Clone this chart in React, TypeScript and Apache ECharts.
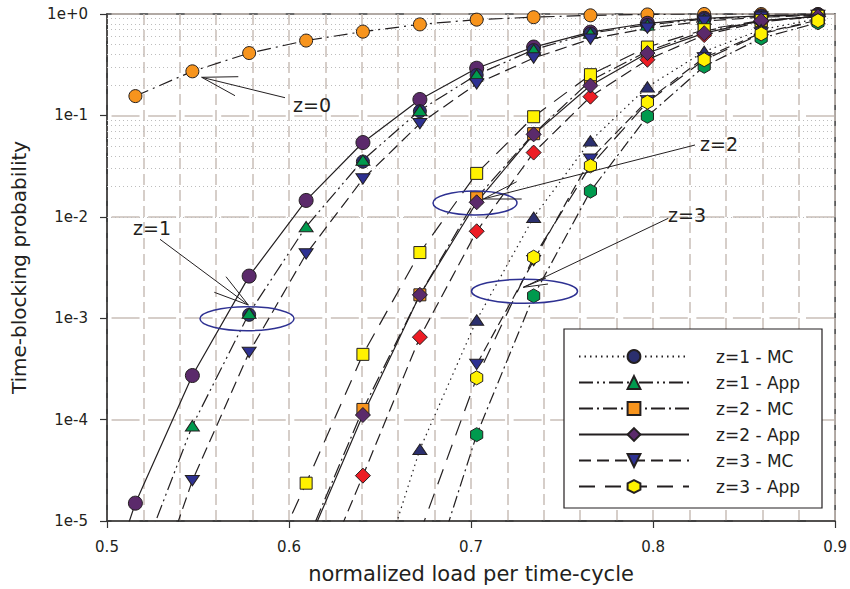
import React, { useEffect, useRef } from "react";
import * as echarts from "echarts";

// normalized load per time-cycle (x positions of the simulation points)
const loads = [0.4844, 0.5156, 0.5469, 0.5781, 0.6094, 0.6406, 0.6719, 0.7031, 0.7344, 0.7656, 0.7969, 0.8281, 0.8594, 0.8906];

// time-blocking probability per series (null = no point)
const z0Orange = [null, 0.155, 0.272, 0.412, 0.547, 0.67, 0.79, 0.88, 0.93, 0.97, 0.99, 1.0, 1.0, 1.0];
const z1Purple = [3.2e-7, 1.5e-5, 2.72e-4, 2.6e-3, 0.0145, 0.054, 0.1435, 0.292, 0.472, 0.662, 0.81, 0.907, 0.96, 0.985];
const z1Navy = [null, null, null, 1.08e-3, null, 0.035, 0.11, 0.25, 0.44, 0.64, 0.78, 0.89, 0.95, 0.98];
const z1Green = [null, 3.0e-6, 8.7e-5, 1.12e-3, 8.0e-3, 0.0362, 0.112, 0.252, 0.444, 0.647, 0.78, 0.89, 0.95, 0.98];
const z1Down = [null, 6e-7, 2.5e-5, 4.6e-4, 4.3e-3, 0.0236, 0.083, 0.205, 0.368, 0.565, 0.724, 0.85, 0.93, 0.97];
const z2Yellow = [null, null, null, 1.38e-6, 2.36e-5, 4.4e-4, 4.44e-3, 0.0268, 0.097, 0.252, 0.472, 0.7, 0.86, 0.95];
const z2Orange = [null, null, null, null, 6e-6, 1.26e-4, 1.7e-3, 0.0154, 0.066, 0.22, 0.43, 0.68, 0.85, 0.95];
const z2Purple = [null, null, null, null, 5.5e-6, 1.11e-4, 1.7e-3, 0.0139, 0.065, 0.197, 0.412, 0.647, 0.86, 0.95];
const z2Red = [null, null, null, null, 1.3e-6, 2.8e-5, 6.5e-4, 7.2e-3, 0.043, 0.153, 0.354, 0.62, 0.84, 0.94];
const z3Up = [null, null, null, null, null, 8.7e-7, 5.1e-5, 9.6e-4, 9.9e-3, 0.056, 0.191, 0.427, 0.7, 0.9];
const z3Down = [null, null, null, null, null, null, null, 3.5e-4, 3.7e-3, 0.037, 0.14, 0.37, 0.65, 0.87];
const z3Yellow = [null, null, null, null, null, null, 7.6e-6, 2.58e-4, 4.0e-3, 0.0318, 0.135, 0.354, 0.637, 0.86];
const z3Green = [null, null, null, null, null, null, 1.26e-6, 7.1e-5, 1.66e-3, 0.0179, 0.098, 0.305, 0.578, 0.82];

// tick labels / legend
const yTickExponents = [0, -1, -2, -3, -4, -5];
const legendNames = ["z=1 - MC", "z=1 - App", "z=2 - MC", "z=2 - App", "z=3 - MC", "z=3 - App"];
const annotationLabels = ["z=0", "z=1", "z=2", "z=3"];

const FONT = "DejaVu Sans, Liberation Sans, Arial, sans-serif";
const INK = "#231F20";
const HEX = "path://M0,-10 L8.66,-5 L8.66,5 L0,10 L-8.66,5 L-8.66,-5 Z";
const DIAMOND = "path://M0,-10 L10,0 L0,10 L-10,0 Z";
const DOWN = "path://M0,0 L20,0 L10,17.3 Z";
const UP = "path://M10,0 L20,17.3 L0,17.3 Z";

const C = {
  orange: "#F7941D",
  purple: "#5B2A6B",
  navy: "#2E3192",
  navyDark: "#2B2F6E",
  green: "#009A4E",
  yellow: "#FFF200",
  red: "#ED1C24",
};

function pairs(vals: (number | null)[]) {
  const out: number[][] = [];
  vals.forEach((v, i) => {
    if (v !== null) out.push([loads[i], v]);
  });
  return out;
}

function mk(name: string, vals: (number | null)[], symbol: string, size: number | number[], color: string, dash: any, showLine = true) {
  return {
    name,
    type: "line",
    data: pairs(vals),
    symbol,
    symbolSize: size,
    symbolKeepAspect: true,
    showAllSymbol: true,
    clip: true,
    silent: true,
    itemStyle: { color, borderColor: INK, borderWidth: 1, opacity: 1 },
    lineStyle: { color: INK, width: showLine ? 1.2 : 0, type: dash, opacity: showLine ? 1 : 0 },
    emphasis: { disabled: true },
    z: 2,
  };
}

function legendSeries(name: string, symbol: string, color: string, dash: any) {
  return {
    name,
    type: "line",
    data: [],
    symbol,
    symbolKeepAspect: true,
    itemStyle: { color, borderColor: INK, borderWidth: 1 },
    lineStyle: { color: INK, width: 1.2, type: dash },
  };
}

export default function App() {
  const ref = useRef<HTMLDivElement>(null);
  useEffect(() => {
    if (!ref.current) return;
    const chart = echarts.init(ref.current, null, { renderer: "svg" });

    const minorValues: number[] = [];
    for (let e = -5; e < 0; e++) {
      for (let m = 2; m <= 9; m++) minorValues.push(m * Math.pow(10, e));
    }

    const gridColor = "#C9BFB8";

    const option: any = {
      animation: false,
      backgroundColor: "#fff",
      textStyle: { fontFamily: FONT },
      grid: { left: 107, right: 12, top: 14, bottom: 65, show: true, borderColor: "#3A3A3A", borderWidth: 1.5, backgroundColor: "transparent" },
      xAxis: {
        type: "value",
        min: 0.5,
        max: 0.9,
        interval: 0.1,
        name: "normalized load per time-cycle",
        nameLocation: "middle",
        nameGap: 42,
        nameTextStyle: { fontSize: 21, color: INK, fontFamily: FONT },
        axisLine: { lineStyle: { color: "#333", width: 1.5 } },
        axisTick: { show: true, length: 7, inside: false, lineStyle: { color: "#333", width: 1.2 } },
        axisLabel: { fontSize: 15, color: INK, margin: 18, fontFamily: FONT, formatter: (v: number) => v.toFixed(1) },
        splitLine: { show: true, lineStyle: { color: gridColor, width: 1.5, type: [11, 5] } },
        minorTick: { show: false, splitNumber: 5 },
        minorSplitLine: { show: true, lineStyle: { color: gridColor, width: 1.5, type: [11, 5] } },
      },
      yAxis: {
        type: "log",
        logBase: 10,
        min: 1e-5,
        max: 1,
        name: "Time-blocking probability",
        nameLocation: "middle",
        nameGap: 78,
        nameTextStyle: { fontSize: 20, color: INK, fontFamily: FONT },
        axisLine: { show: true, lineStyle: { color: "#333", width: 1.5 } },
        axisTick: { show: true, length: 7, inside: false, lineStyle: { color: "#333", width: 1.2 } },
        axisLabel: {
          fontSize: 15,
          color: INK,
          margin: 19,
          fontFamily: FONT,
          formatter: (v: number) => {
            const e = Math.round(Math.log10(v));
            const idx = yTickExponents.indexOf(e);
            const ex = idx >= 0 ? yTickExponents[idx] : e;
            return "1e" + (ex >= 0 ? "+" + ex : String(ex));
          },
        },
        splitLine: { show: true, lineStyle: { color: gridColor, width: 1.5, type: [28, 8.55], dashOffset: 32.27 } },
      },
      legend: {
        data: legendNames,
        orient: "vertical",
        left: 578,
        top: 348,
        itemWidth: 110,
        itemHeight: 16,
        itemGap: 9,
        padding: 0,
        selectedMode: false,
        z: 6,
        textStyle: { fontSize: 17, color: INK, fontFamily: FONT, padding: [0, 0, 0, 22] },
      },
      graphic: [
        { type: "rect", z: 3, shape: { x: 564, y: 329, width: 258, height: 179 }, style: { fill: "#fff", stroke: INK, lineWidth: 1.2 } },
        // ellipses
        { type: "ellipse", z: 20, shape: { cx: 247, cy: 318.7, rx: 47, ry: 12 }, style: { fill: "none", stroke: C.navy, lineWidth: 1.5 } },
        { type: "ellipse", z: 20, shape: { cx: 475, cy: 203, rx: 42, ry: 12 }, style: { fill: "none", stroke: C.navy, lineWidth: 1.5 } },
        { type: "ellipse", z: 20, shape: { cx: 524.5, cy: 291.3, rx: 53, ry: 12 }, style: { fill: "none", stroke: C.navy, lineWidth: 1.5 } },
        // leaders z=0
        { type: "line", z: 20, shape: { x1: 285, y1: 97.7, x2: 201.7, y2: 77.3 }, style: { stroke: INK, lineWidth: 1 } },
        { type: "line", z: 20, shape: { x1: 201.7, y1: 77.3, x2: 238.3, y2: 76.7 }, style: { stroke: INK, lineWidth: 1 } },
        { type: "line", z: 20, shape: { x1: 201.7, y1: 77.3, x2: 235, y2: 95.7 }, style: { stroke: INK, lineWidth: 1 } },
        // leaders z=1
        { type: "line", z: 20, shape: { x1: 160, y1: 239.3, x2: 248.3, y2: 305 }, style: { stroke: INK, lineWidth: 1 } },
        { type: "line", z: 20, shape: { x1: 248.3, y1: 305, x2: 226, y2: 276.7 }, style: { stroke: INK, lineWidth: 1 } },
        { type: "line", z: 20, shape: { x1: 248.3, y1: 305, x2: 214.3, y2: 292.3 }, style: { stroke: INK, lineWidth: 1 } },
        // leaders z=2
        { type: "line", z: 20, shape: { x1: 695, y1: 145, x2: 483.3, y2: 199 }, style: { stroke: INK, lineWidth: 1 } },
        { type: "line", z: 20, shape: { x1: 483.3, y1: 199, x2: 516.7, y2: 181.7 }, style: { stroke: INK, lineWidth: 1 } },
        { type: "line", z: 20, shape: { x1: 483.3, y1: 199, x2: 521.7, y2: 199 }, style: { stroke: INK, lineWidth: 1 } },
        // leaders z=3
        { type: "line", z: 20, shape: { x1: 668.3, y1: 218.3, x2: 523.3, y2: 287.3 }, style: { stroke: INK, lineWidth: 1 } },
        { type: "line", z: 20, shape: { x1: 523.3, y1: 287.3, x2: 546, y2: 278 }, style: { stroke: INK, lineWidth: 1 } },
        { type: "line", z: 20, shape: { x1: 523.3, y1: 287.3, x2: 548, y2: 284 }, style: { stroke: INK, lineWidth: 1 } },
        // labels
        { type: "text", z: 21, x: 293, y: 104.5, style: { text: annotationLabels[0], fontSize: 19, fill: INK, fontFamily: FONT, verticalAlign: "middle", align: "left" } },
        { type: "text", z: 21, x: 133, y: 227.5, style: { text: annotationLabels[1], fontSize: 19, fill: INK, fontFamily: FONT, verticalAlign: "middle", align: "left" } },
        { type: "text", z: 21, x: 700, y: 143.5, style: { text: annotationLabels[2], fontSize: 19, fill: INK, fontFamily: FONT, verticalAlign: "middle", align: "left" } },
        { type: "text", z: 21, x: 668, y: 215, style: { text: annotationLabels[3], fontSize: 19, fill: INK, fontFamily: FONT, verticalAlign: "middle", align: "left" } },
      ],
      series: [
        {
          name: "minor-grid",
          type: "line",
          data: [],
          silent: true,
          markLine: {
            silent: true,
            z: 1,
            symbol: ["none", "none"],
            label: { show: false },
            lineStyle: { color: "#BDBDBD", width: 1.1, type: [1, 3] },
            emphasis: { disabled: true },
            data: minorValues.map((v) => ({ yAxis: v })),
          },
        },
        mk("z0", z0Orange, "circle", 13, C.orange, [14, 5, 2, 5]),
        mk("z1 purple", z1Purple, "circle", 14, C.purple, "solid"),
        mk("z1 navy", z1Navy, "circle", 13, C.navyDark, "dotted", false),
        mk("z1 green", z1Green, UP, [14, 12], C.green, [14, 4, 2, 4, 2, 4]),
        mk("z1 down", z1Down, DOWN, [14, 12], C.navy, [12, 6]),
        mk("z2 orange", z2Orange, "rect", 12, C.orange, [14, 4, 2, 4]),
        mk("z2 yellow", z2Yellow, "rect", 12, C.yellow, [16, 10]),
        mk("z2 red", z2Red, DIAMOND, 15, C.red, [12, 6]),
        mk("z2 purple", z2Purple, DIAMOND, 15, C.purple, "solid"),
        mk("z3 up", z3Up, UP, [14, 12], C.navyDark, [1.5, 4]),
        mk("z3 down", z3Down, DOWN, [14, 12], C.navy, [10, 5]),
        mk("z3 green", z3Green, HEX, 14, C.green, [12, 4, 2, 4]),
        mk("z3 yellow", z3Yellow, HEX, 14, C.yellow, [16, 10]),
        legendSeries(legendNames[0], "circle", C.navyDark, [1.5, 4]),
        legendSeries(legendNames[1], UP, C.green, [14, 4, 2, 4, 2, 4]),
        legendSeries(legendNames[2], "rect", C.orange, [14, 4, 2, 4]),
        legendSeries(legendNames[3], DIAMOND, C.purple, "solid"),
        legendSeries(legendNames[4], DOWN, C.navy, [12, 6]),
        legendSeries(legendNames[5], HEX, C.yellow, [16, 10]),
      ],
    };
    chart.setOption(option);
    return () => chart.dispose();
  }, []);
  return <div ref={ref} style={{ width: 850, height: 589, position: "absolute", left: 0, top: 0 }} />;
}
